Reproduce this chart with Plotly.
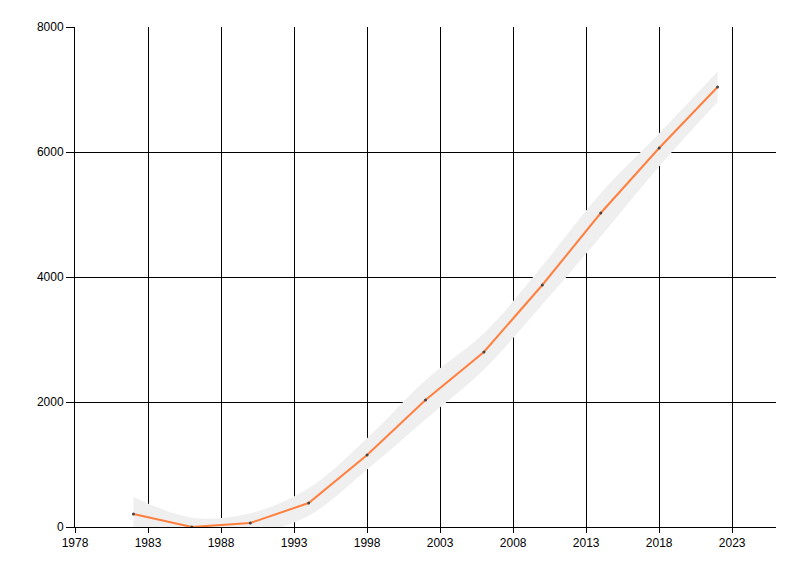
import plotly.graph_objects as go

years = [1982, 1986, 1990, 1994, 1998, 2002, 2006, 2010, 2014, 2018, 2022]
values = [208, 0, 64, 384, 1152, 2032, 2800, 3872, 5024, 6064, 7040]
band_upper = [480, 150, 220, 620, 1420, 2350, 3100, 4180, 5340, 6300, 7290]
band_lower = [-60, -160, -120, 180, 920, 1720, 2520, 3560, 4650, 5770, 6800]
x_ticks = [1978, 1983, 1988, 1993, 1998, 2003, 2008, 2013, 2018, 2023]
y_ticks = [0, 2000, 4000, 6000, 8000]

fig = go.Figure()
fig.add_trace(go.Scatter(x=years, y=band_lower, mode="lines",
                         line=dict(width=0, shape="spline", smoothing=1.0, color="#efefef"),
                         hoverinfo="skip", showlegend=False))
fig.add_trace(go.Scatter(x=years, y=band_upper, mode="lines", fill="tonexty",
                         fillcolor="#efefef",
                         line=dict(width=0, shape="spline", smoothing=1.0, color="#efefef"),
                         hoverinfo="skip", showlegend=False))
fig.add_trace(go.Scatter(x=years, y=values, mode="lines+markers",
                         line=dict(color="#ff7f3f", width=2),
                         marker=dict(size=3, color="#444444"),
                         showlegend=False))

axis_font = dict(family="Liberation Sans, Arial, sans-serif", size=12, color="#000000")
fig.update_layout(
    width=800, height=576,
    margin=dict(l=67, r=32, t=19, b=57),
    paper_bgcolor="white", plot_bgcolor="white",
    font=axis_font,
    xaxis=dict(range=[1978, 2026], tickvals=x_ticks, ticktext=[str(t) for t in x_ticks],
               showgrid=True, gridcolor="#000000", gridwidth=1,
               showline=True, linecolor="#000000", linewidth=1,
               ticks="outside", ticklen=5, tickcolor="#000000",
               zeroline=False, tickfont=axis_font),
    yaxis=dict(range=[0, 8000], tickvals=y_ticks, ticktext=[str(t) for t in y_ticks],
               showgrid=True, gridcolor="#000000", gridwidth=1,
               showline=True, linecolor="#000000", linewidth=1,
               ticks="outside", ticklen=8, tickcolor="#000000",
               zeroline=False, tickfont=axis_font),
)
fig.write_html("out.html")
